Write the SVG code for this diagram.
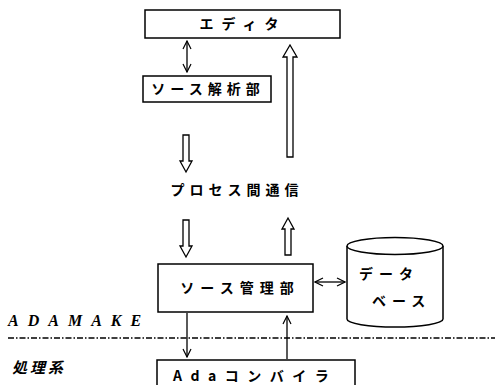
<svg xmlns="http://www.w3.org/2000/svg" width="495" height="385" viewBox="0 0 495 385">
<defs>
<marker id="ah" markerWidth="10" markerHeight="10" refX="9" refY="5" orient="auto-start-reverse" markerUnits="userSpaceOnUse">
<path d="M1,1 L9,5 L1,9" fill="none" stroke="#000" stroke-width="1.2"/>
</marker>
<style>
.box{fill:#fff;stroke:#000;stroke-width:1.5}
.t{font-family:"Noto Sans CJK JP","Noto Sans",sans-serif;font-weight:bold;font-size:14px;fill:#000}
.line{stroke:#000;stroke-width:1.3;fill:none}
.hollow{fill:#fff;stroke:#000;stroke-width:1.3}
.it{font-family:"Liberation Serif",serif;font-style:italic;font-weight:bold;font-size:16px;fill:#000}
</style>
</defs>
<rect width="495" height="385" fill="#fff"/>
<g id="editor">
<rect class="box" x="145" y="10" width="195" height="28"/>
<text class="t" x="243" y="29" text-anchor="middle" letter-spacing="8">エディタ</text>
</g>
<g id="analyzer">
<rect class="box" x="143" y="76" width="128" height="26"/>
<text class="t" x="208" y="94" text-anchor="middle" letter-spacing="5">ソース解析部</text>
</g>
<g id="ipc">
<text class="t" x="237" y="195" text-anchor="middle" letter-spacing="5">プロセス間通信</text>
</g>
<g id="manager">
<rect class="box" x="158" y="264" width="155" height="48"/>
<text class="t" x="240" y="293" text-anchor="middle" letter-spacing="6">ソース管理部</text>
</g>
<g id="database">
<path class="box" d="M347,246 L347,319 A48,8 0 0 0 443,319 L443,246"/>
<ellipse class="box" cx="395" cy="246" rx="48" ry="8.5"/>
<text class="t" x="359" y="279" letter-spacing="6">データ</text>
<text class="t" x="372" y="306" letter-spacing="6">ベース</text>
</g>
<g id="compiler">
<rect class="box" x="157" y="360" width="198" height="40"/>
<text class="t" x="173" y="381" letter-spacing="8.5">Adaコンバイラ</text>
</g>
<g id="labels">
<text class="it" x="8" y="326" letter-spacing="9">ADAMAKE</text>
<text x="0" y="0" transform="translate(12,373) skewX(-14)" font-family="'Noto Sans CJK JP',sans-serif" font-weight="bold" font-size="15" letter-spacing="3" fill="#000">処理系</text>
<line x1="8" y1="338" x2="495" y2="338" stroke="#000" stroke-width="1.3" stroke-dasharray="6,2,1.5,2"/>
</g>
<g id="connectors">
<line class="line" x1="187" y1="41" x2="187" y2="72" marker-start="url(#ah)" marker-end="url(#ah)"/>
<path class="hollow" d="M287,157 L287,57 L283,57 L290,45 L297,57 L293,57 L293,157 Z"/>
<path class="hollow" d="M183,135 L189,135 L189,161 L192,161 L186,172 L180,161 L183,161 Z"/>
<path class="hollow" d="M183,220 L189,220 L189,246 L192,246 L186,257 L180,246 L183,246 Z"/>
<path class="hollow" d="M285,255 L291,255 L291,229 L294,229 L288,218 L282,229 L285,229 Z"/>
<line class="line" x1="315" y1="282" x2="345" y2="282" marker-start="url(#ah)" marker-end="url(#ah)"/>
<line class="line" x1="187" y1="313" x2="187" y2="357" marker-end="url(#ah)"/>
<line class="line" x1="287" y1="359" x2="287" y2="316" marker-end="url(#ah)"/>
</g>
</svg>
